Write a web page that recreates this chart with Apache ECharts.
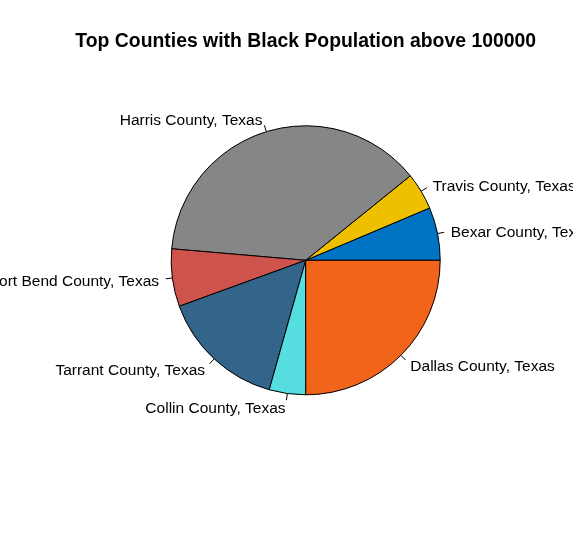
<!DOCTYPE html>
<html>
<head>
<meta charset="utf-8">
<script src="https://cdn.jsdelivr.net/npm/echarts@6/dist/echarts.min.js"></script>
<style>html,body{margin:0;padding:0;background:#fff;}#c{width:573px;height:541px;}</style>
</head>
<body>
<div id="c"></div>
<script>
const counties = ["Bexar County, Texas", "Travis County, Texas", "Harris County, Texas", "Fort Bend County, Texas", "Tarrant County, Texas", "Collin County, Texas", "Dallas County, Texas"];
const blackPopulation = [147600, 103400, 878000, 160500, 350000, 101800, 580000];
const sliceColors = ["#0073C2", "#EFC000", "#868686", "#CD534C", "#33658A", "#55DDE0", "#F26419"];
const chartTitle = "Top Counties with Black Population above 100000";

const R = 134.5;
const C = [305.7, 260.3];
const FONT = "'Liberation Sans', Arial, sans-serif";

const data = counties.map((n, i) => ({ name: n, value: blackPopulation[i], itemStyle: { color: sliceColors[i] } }));

const chart = echarts.init(document.getElementById('c'), null, { renderer: 'canvas' });
chart.setOption({
  animation: false,
  backgroundColor: '#ffffff',
  title: {
    text: chartTitle,
    left: 305.7,
    textAlign: 'center',
    top: 32,
    padding: 0,
    textStyle: { fontFamily: FONT, fontSize: 19.4, fontWeight: 'bold', color: '#000' }
  },
  series: [
    {
      type: 'pie',
      name: 'labels',
      center: C,
      radius: R,
      startAngle: 0,
      clockwise: false,
      avoidLabelOverlap: false,
      labelLayout: { hideOverlap: false },
      silent: true,
      emphasis: { disabled: true, scale: false },
      itemStyle: { borderWidth: 0 },
      label: { show: true, position: 'outside', color: '#000', fontSize: 15.5, fontFamily: FONT, distanceToLabelLine: 0, offset: [0, 2] },
      labelLine: { show: true, length: R * 0.1, length2: 0, lineStyle: { color: 'rgba(0,0,0,0)', width: 0 } },
      data: data
    },
    {
      type: 'pie',
      name: 'slices',
      center: C,
      radius: R,
      startAngle: 0,
      clockwise: false,
      avoidLabelOverlap: false,
      labelLayout: { hideOverlap: false },
      silent: true,
      emphasis: { disabled: true, scale: false },
      itemStyle: { borderColor: '#000', borderWidth: 1 },
      label: { show: true, position: 'outside', color: 'rgba(0,0,0,0)', fontSize: 15.5, fontFamily: FONT, distanceToLabelLine: 0 },
      labelLine: { show: true, length: R * 0.05, length2: 0, lineStyle: { color: '#000', width: 1 } },
      data: data
    }
  ]
});
</script>
</body>
</html>
